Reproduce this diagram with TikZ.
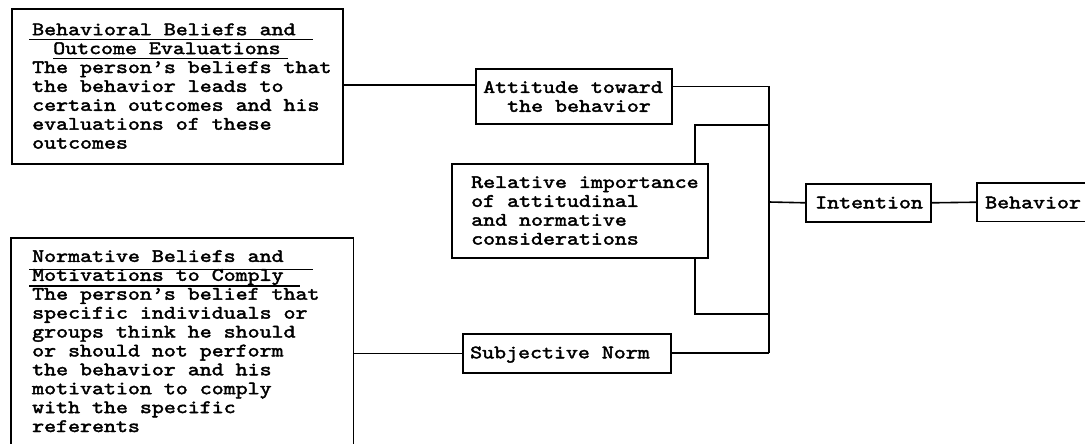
\documentclass[tikz,border=0pt]{standalone}
\usepackage{fontspec}
\newfontfamily\cour{lmmono10-regular.otf}[FakeStretch=1.2, FakeBold=2.2, Ligatures=TeX]
\tikzset{
  box/.style={draw, line width=1.6pt, inner sep=0pt, anchor=north west},
  openbox/.style={inner sep=0pt, anchor=north west},
  txt/.style={font=\cour\fontsize{19}{18.9}\selectfont, inner sep=0pt, align=left, anchor=north west},
  txtone/.style={font=\cour\fontsize{19}{18.9}\selectfont, inner sep=0pt, anchor=base west},
  conn/.style={line width=1.6pt},
  uline/.style={line width=1.8pt}
}
\begin{document}
\begin{tikzpicture}[x=1pt,y=-1pt]
\useasboundingbox (0,0) rectangle (1085,444);
% boxes
\node[box, minimum width=331pt, minimum height=155pt] (b1) at (11,8) {};
\node[openbox, minimum width=342pt, minimum height=206pt] (b2) at (11,238) {};
\draw[conn] (b2.south west) -- (b2.north west) -- (b2.north east) -- (b2.south east);
\node[box, minimum width=196pt, minimum height=55pt] (att) at (475,68) {};
\node[box, minimum width=256pt, minimum height=94pt] (rel) at (451,163) {};
\node[box, minimum width=208pt, minimum height=39pt] (sn) at (462,333) {};
\node[box, minimum width=125pt, minimum height=38pt] (int) at (805,183) {};
\node[openbox, minimum width=108pt, minimum height=38pt] (beh) at (977,183) {};
\draw[conn] (beh.north east) -- (beh.north west) -- (beh.south west) -- (beh.south east);
% texts
\node[txt] (t1) at (32,21.77) {\strut Behavioral Beliefs and\\
\hspace*{21pt}Outcome Evaluations\\
The person’s beliefs that\\
the behavior leads to\\
certain outcomes and his\\
evaluations of these\\
outcomes};
\draw[uline] (29,39.5) -- (313,39.5);
\draw[uline] (53,58.5) -- (288,58.5);
\node[txt] (t2) at (32,248.47) {\strut Normative Beliefs and\\
Motivations to Comply\\
The person’s belief that\\
specific individuals or\\
groups think he should\\
or should not perform\\
the behavior and his\\
motivation to comply\\
with the specific\\
referents};
\draw[uline] (29,269.5) -- (313,269.5);
\draw[uline] (29,286) -- (300,286);
\node[txt] (t3) at (483,79.47) {\strut Attitude toward\\
\hspace*{24pt}the behavior};
\node[txt] (t4) at (471,174.47) {\strut Relative importance\\
of attitudinal\\
and normative\\
considerations};
\node[txtone] (t5) at (470,358.3) {Subjective Norm};
\node[txtone] (t6) at (815,208.3) {Intention};
\node[txtone] (t7) at (985,208.3) {Behavior};
% connectors
\coordinate (bustop) at (769,86.7);
\coordinate (busbot) at (769,353);
\coordinate (busmid) at (769,202);
\coordinate (relup) at (769,125);
\coordinate (reldown) at (769,314);
\draw[conn] (b1.east |- 0,85) -- (att.west |- 0,85);
\draw[conn] (att.east |- bustop) -- (bustop) -- (busbot);
\draw[conn] (rel.north -| 695,0) -- (695,125) -- (relup);
\draw[conn] (rel.south -| 695,0) -- (695,314) -- (reldown);
\draw[conn] (sn.east |- busbot) -- (busbot);
\draw[conn] (b2.east |- sn.west) -- (sn.west);
\draw[conn] (busmid) -- (int.west);
\draw[conn] (int.east) -- (beh.west);
\end{tikzpicture}
\end{document}
